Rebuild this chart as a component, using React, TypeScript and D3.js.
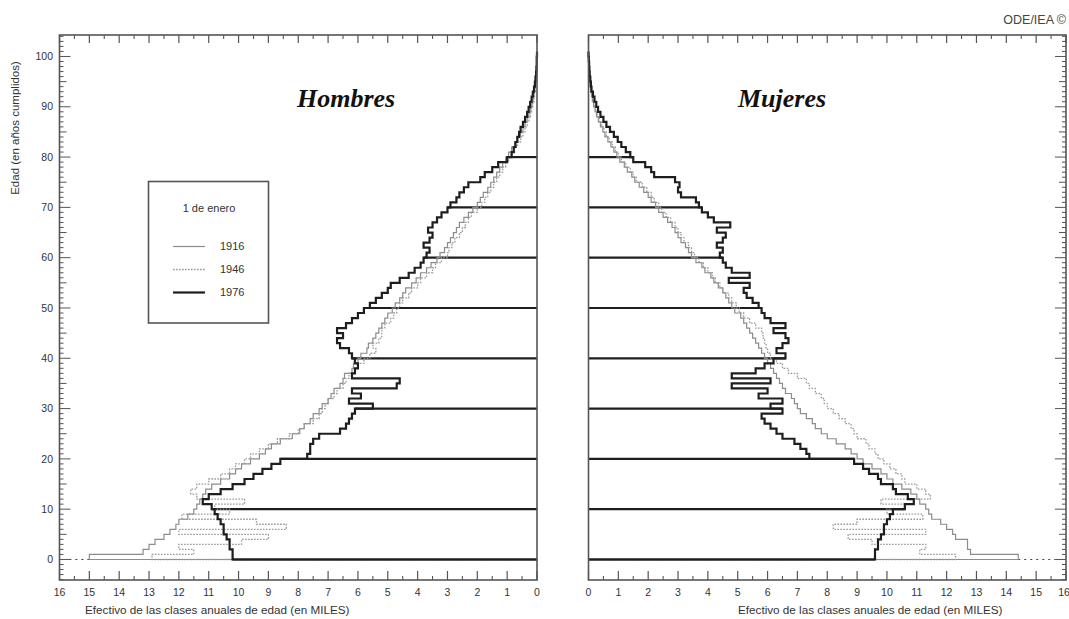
import React from 'react';
import * as d3 from 'd3';

// ---------- DATA (thousands of persons by single year of age 0..100) ----------
const AGES: number[] = d3.range(0, 101);
const YEARS = ['1916', '1946', '1976'];
const X_TICKS: number[] = d3.range(0, 17);
const Y_LABELS: number[] = [0, 10, 20, 30, 40, 50, 60, 70, 80, 90, 100];
const DECADES: number[] = [0, 10, 20, 30, 40, 50, 60, 70, 80];

const M1916 = [
  15.0, 13.2, 13.0, 12.8, 12.5, 12.3, 12.1, 12.0, 11.7, 11.5,
  11.4, 11.3, 11.2, 11.1, 10.9, 10.6, 10.3, 10.1, 9.9, 9.6,
  9.3, 9.1, 8.9, 8.6, 8.2, 7.95, 7.8, 7.6, 7.5, 7.3,
  7.2, 7.0, 6.9, 6.8, 6.6, 6.5, 6.45, 6.2, 6.15, 6.0,
  5.9, 5.7, 5.65, 5.5, 5.4, 5.3, 5.2, 5.1, 5.0, 4.85,
  4.75, 4.6, 4.5, 4.4, 4.2, 4.05, 3.9, 3.7, 3.55, 3.35,
  3.25, 3.1, 3.0, 2.9, 2.8, 2.7, 2.6, 2.45, 2.3, 2.15,
  2.0, 1.9, 1.8, 1.65, 1.55, 1.45, 1.35, 1.25, 1.15, 1.05,
  0.95, 0.85, 0.75, 0.65, 0.55, 0.47, 0.4, 0.33, 0.27, 0.22,
  0.17, 0.13, 0.1, 0.08, 0.06, 0.04, 0.03, 0.02, 0.01, 0.01, 0,
];
const M1946 = [
  12.9, 11.5, 12.0, 9.9, 9.0, 12.0, 8.4, 9.4, 11.9, 10.3,
  10.8, 9.8, 11.4, 11.6, 11.4, 11.0, 10.6, 10.3, 10.1, 9.8,
  9.6, 9.3, 9.0, 8.7, 8.3, 8.0, 7.8, 7.5, 7.3, 7.2,
  7.1, 7.0, 6.8, 6.7, 6.5, 6.4, 6.3, 6.1, 6.0, 5.8,
  5.6, 5.4, 5.5, 5.3, 5.2, 5.2, 5.1, 4.9, 4.8, 4.7,
  4.6, 4.5, 4.3, 4.2, 4.0, 3.9, 3.7, 3.5, 3.4, 3.2,
  3.0, 2.95, 2.85, 2.75, 2.6, 2.5, 2.4, 2.3, 2.2, 2.0,
  1.85, 1.75, 1.65, 1.55, 1.45, 1.35, 1.25, 1.15, 1.05, 0.95,
  0.85, 0.75, 0.65, 0.55, 0.47, 0.4, 0.33, 0.27, 0.22, 0.18,
  0.14, 0.1, 0.08, 0.06, 0.04, 0.03, 0.02, 0.01, 0.01, 0, 0,
];
const M1976 = [
  10.2, 10.2, 10.3, 10.3, 10.4, 10.5, 10.5, 10.6, 10.7, 10.8,
  10.9, 11.2, 11.0, 10.6, 10.2, 9.8, 9.5, 9.2, 8.9, 8.6,
  7.7, 7.6, 7.6, 7.5, 7.3, 6.6, 6.4, 6.3, 6.2, 6.1,
  5.5, 6.3, 5.9, 6.2, 4.7, 4.6, 6.2, 6.1, 6.0, 6.1,
  6.2, 6.3, 6.6, 6.7, 6.5, 6.7, 6.4, 6.2, 6.0, 5.8,
  5.6, 5.4, 5.2, 5.0, 4.9, 4.6, 4.3, 4.1, 3.9, 3.8,
  3.7, 3.6, 3.8, 3.6, 3.5, 3.65, 3.5, 3.35, 3.2, 3.0,
  2.9, 2.7, 2.6, 2.45, 2.3, 1.9, 1.75, 1.5, 1.3, 1.0,
  0.85, 0.78, 0.72, 0.66, 0.6, 0.55, 0.47, 0.4, 0.33, 0.28,
  0.23, 0.18, 0.14, 0.1, 0.07, 0.05, 0.03, 0.02, 0.01, 0.01, 0,
];
const F1916 = [
  14.4, 12.8, 12.7, 12.7, 12.3, 12.2, 12.0, 11.8, 11.5, 11.4,
  11.3, 11.1, 11.0, 10.8, 10.5, 10.2, 10.0, 9.8, 9.5, 9.2,
  9.0, 8.8, 8.6, 8.3, 8.0, 7.8, 7.6, 7.5, 7.3, 7.1,
  7.0, 6.9, 6.8, 6.6, 6.5, 6.4, 6.3, 6.2, 6.1, 6.0,
  5.9, 5.8, 5.7, 5.6, 5.5, 5.4, 5.3, 5.2, 5.1, 4.9,
  4.8, 4.7, 4.6, 4.5, 4.35, 4.2, 4.1, 3.9, 3.8, 3.6,
  3.45, 3.35, 3.25, 3.1, 3.0, 2.9, 2.8, 2.65, 2.5, 2.35,
  2.25, 2.1, 2.0, 1.85, 1.7, 1.55, 1.45, 1.3, 1.2, 1.05,
  0.95, 0.85, 0.75, 0.65, 0.55, 0.48, 0.4, 0.33, 0.27, 0.22,
  0.17, 0.13, 0.1, 0.07, 0.05, 0.04, 0.03, 0.02, 0.01, 0.01, 0,
];
const F1946 = [
  12.3, 11.1, 11.3, 9.5, 8.7, 11.3, 8.2, 9.0, 11.2, 10.0,
  10.6, 9.8, 11.45, 11.3, 11.0, 10.6, 10.5, 10.3, 10.1, 9.9,
  9.7, 9.6, 9.4, 9.3, 9.0, 8.9, 8.8, 8.6, 8.4, 8.2,
  8.0, 7.9, 7.8, 7.6, 7.4, 7.3, 7.0, 6.7, 6.5, 6.3,
  6.1, 6.0, 5.95, 5.9, 5.85, 5.8, 5.6, 5.4, 5.2, 5.05,
  4.95, 4.8, 4.7, 4.5, 4.4, 4.25, 4.15, 4.0, 3.85, 3.7,
  3.55, 3.45, 3.35, 3.2, 3.1, 3.0, 2.9, 2.75, 2.6, 2.45,
  2.35, 2.2, 2.1, 1.95, 1.8, 1.6, 1.5, 1.4, 1.25, 1.1,
  1.0, 0.9, 0.8, 0.7, 0.6, 0.52, 0.44, 0.36, 0.3, 0.24,
  0.19, 0.15, 0.11, 0.08, 0.06, 0.04, 0.03, 0.02, 0.01, 0.01, 0,
];
const F1976 = [
  9.6, 9.6, 9.7, 9.7, 9.8, 9.9, 9.9, 10.0, 10.1, 10.2,
  10.6, 10.9, 10.7, 10.3, 10.2, 9.8, 9.7, 9.4, 9.2, 8.9,
  7.4, 7.3, 7.1, 6.9, 6.5, 6.3, 6.1, 5.9, 5.8, 6.5,
  6.1, 6.5, 5.7, 6.0, 4.8, 6.1, 4.8, 5.6, 5.9, 6.2,
  6.6, 6.3, 6.5, 6.7, 6.6, 6.2, 6.6, 6.1, 5.9, 5.8,
  5.7, 5.5, 5.3, 5.2, 5.4, 4.7, 5.4, 4.8, 4.6, 4.5,
  4.4, 4.5, 4.3, 4.5, 4.6, 4.3, 4.75, 4.2, 4.0, 3.8,
  3.7, 3.6, 3.1, 3.0, 3.05, 2.9, 2.2, 2.1, 1.9, 1.5,
  1.4, 1.25, 1.1, 0.98, 0.85, 0.72, 0.6, 0.5, 0.4, 0.32,
  0.26, 0.2, 0.15, 0.1, 0.08, 0.06, 0.04, 0.03, 0.02, 0.01, 0,
];

// ---------- LAYOUT ----------
const W = 1069;
const H = 619;
const TOP = 35;
const BOTTOM = 580;
const LEFT_X0 = 59.5; // value 16 (left panel)
const LEFT_X1 = 537; // value 0
const RIGHT_X0 = 588.5; // value 0
const RIGHT_X1 = 1066; // value 16

const yScale = d3.scaleLinear().domain([-4.08, 104.27]).range([BOTTOM, TOP]);
const xLeft = d3.scaleLinear().domain([16, 0]).range([LEFT_X0, LEFT_X1]);
const xRight = d3.scaleLinear().domain([0, 16]).range([RIGHT_X0, RIGHT_X1]);

const FONT = 'Liberation Sans, Arial, sans-serif';

const STYLES: Record<string, { stroke: string; width: number; dash?: string }> = {
  '1916': { stroke: '#8c8c8c', width: 1.2 },
  '1946': { stroke: '#9a9a9a', width: 1.3, dash: '1.6,1.4' },
  '1976': { stroke: '#1e1e1e', width: 2.2 },
};

function stepPoints(values: number[]): [number, number][] {
  const pts: [number, number][] = [[0, 0]];
  AGES.forEach((a) => {
    pts.push([values[a], a]);
    pts.push([values[a], a + 1]);
  });
  return pts;
}

type PanelProps = {
  side: 'left' | 'right';
  series: { year: string; values: number[] }[];
  title: string;
  titleX: number;
  axisTitleX: number;
};

function Panel({ side, series, title, titleX, axisTitleX }: PanelProps) {
  const x = side === 'left' ? xLeft : xRight;
  const x0 = side === 'left' ? LEFT_X0 : RIGHT_X0;
  const x1 = side === 'left' ? LEFT_X1 : RIGHT_X1;
  const line = d3
    .line<[number, number]>()
    .x((d) => x(d[0]))
    .y((d) => yScale(d[1]));
  const v76 = series.find((s) => s.year === '1976')!.values;
  const maxAge0 = d3.max(series, (s) => s.values[0])!;
  const outerX = side === 'left' ? x0 : x1; // the side with the age ticks
  const dir = side === 'left' ? 1 : -1;
  const halfTicks = d3.range(0.5, 16, 1);
  const ageTicks = d3.range(-4, 105, 1);
  return (
    <g>
      {/* decade lines of 1976 */}
      {DECADES.map((a) => {
        const v = a === 0 ? v76[0] : Math.max(v76[a - 1], v76[a]);
        return (
          <line
            key={'d' + a}
            x1={x(0)}
            x2={x(v)}
            y1={yScale(a)}
            y2={yScale(a)}
            stroke="#1e1e1e"
            strokeWidth={2.2}
          />
        );
      })}
      {/* dotted baseline continuation */}
      <line
        x1={x(maxAge0)}
        x2={x(16)}
        y1={yScale(0)}
        y2={yScale(0)}
        stroke="#444"
        strokeWidth={1.2}
        strokeDasharray="2,4"
      />
      {series.map((s) => {
        const st = STYLES[s.year];
        return (
          <path
            key={s.year}
            d={line(stepPoints(s.values)) || ''}
            fill="none"
            stroke={st.stroke}
            strokeWidth={st.width}
            strokeDasharray={st.dash}
            strokeLinejoin="miter"
          />
        );
      })}
      {/* frame */}
      <rect x={x0} y={TOP} width={x1 - x0} height={BOTTOM - TOP} fill="none" stroke="#555" strokeWidth={1.6} />
      {/* x ticks bottom and top */}
      {X_TICKS.map((t) => (
        <g key={'xt' + t}>
          <line x1={x(t)} x2={x(t)} y1={BOTTOM} y2={BOTTOM - 9} stroke="#555" strokeWidth={1.2} />
          <line x1={x(t)} x2={x(t)} y1={TOP} y2={TOP + 8} stroke="#555" strokeWidth={1.2} />
          <text
            x={side === 'right' && t === 16 ? x(t) - 2 : x(t)}
            y={596}
            textAnchor="middle"
            fontFamily={FONT}
            fontSize={10.5}
            fill="#333"
          >
            {t}
          </text>
        </g>
      ))}
      {halfTicks.map((t) => (
        <g key={'xh' + t}>
          <line x1={x(t)} x2={x(t)} y1={BOTTOM} y2={BOTTOM - 4} stroke="#555" strokeWidth={1.1} />
          <line x1={x(t)} x2={x(t)} y1={TOP} y2={TOP + 4} stroke="#555" strokeWidth={1.1} />
        </g>
      ))}
      {/* age ticks on outer side */}
      {ageTicks.map((a) => {
        const len = a % 10 === 0 ? 11 : a % 5 === 0 ? 7 : 4;
        return (
          <line
            key={'yt' + a}
            x1={outerX}
            x2={outerX + dir * len}
            y1={yScale(a)}
            y2={yScale(a)}
            stroke="#555"
            strokeWidth={1}
          />
        );
      })}
      {side === 'left' &&
        Y_LABELS.map((a) => (
          <text
            key={'yl' + a}
            x={53}
            y={yScale(a) + 3.7}
            textAnchor="end"
            fontFamily={FONT}
            fontSize={10.5}
            fill="#333"
          >
            {a}
          </text>
        ))}
      <text
        x={titleX}
        y={107}
        fontFamily="Liberation Serif, Times New Roman, serif"
        fontStyle="italic"
        fontWeight="bold"
        fontSize={26}
        fill="#111"
      >
        {title}
      </text>
      <text x={axisTitleX} y={614} fontFamily={FONT} fontSize={11.7} fill="#333">
        Efectivo de las clases anuales de edad (en MILES)
      </text>
    </g>
  );
}

export default function App() {
  const legendRows = YEARS.map((y, i) => ({ year: y, yPos: 246.5 + i * 23 }));
  return (
    <svg
      width={W}
      height={H}
      style={{ position: 'absolute', left: 0, top: 0, background: '#fff' }}
    >
      <rect width={W} height={H} fill="#fff" />
      <Panel
        side="left"
        title="Hombres"
        titleX={297}
        axisTitleX={85}
        series={[
          { year: '1916', values: M1916 },
          { year: '1946', values: M1946 },
          { year: '1976', values: M1976 },
        ]}
      />
      <Panel
        side="right"
        title="Mujeres"
        titleX={738}
        axisTitleX={738}
        series={[
          { year: '1916', values: F1916 },
          { year: '1946', values: F1946 },
          { year: '1976', values: F1976 },
        ]}
      />
      {/* y axis title */}
      <text
        transform="translate(19,128) rotate(-90)"
        textAnchor="middle"
        fontFamily={FONT}
        fontSize={11.5}
        fill="#333"
      >
        Edad (en años cumplidos)
      </text>
      {/* source */}
      <text x={1066} y={24} textAnchor="end" fontFamily={FONT} fontSize={12.5} fill="#444">
        ODE/IEA ©
      </text>
      {/* legend */}
      <rect x={148.5} y={181.5} width={120} height={141.5} fill="#fff" stroke="#555" strokeWidth={1.6} />
      <text x={209} y={212} textAnchor="middle" fontFamily={FONT} fontSize={11} fill="#333">
        1 de enero
      </text>
      {legendRows.map((r) => {
        const st = STYLES[r.year];
        return (
          <g key={r.year}>
            <line
              x1={173}
              x2={205}
              y1={r.yPos}
              y2={r.yPos}
              stroke={st.stroke}
              strokeWidth={st.width}
              strokeDasharray={st.dash}
            />
            <text x={220} y={r.yPos + 3.8} fontFamily={FONT} fontSize={11} fill="#333">
              {r.year}
            </text>
          </g>
        );
      })}
    </svg>
  );
}
